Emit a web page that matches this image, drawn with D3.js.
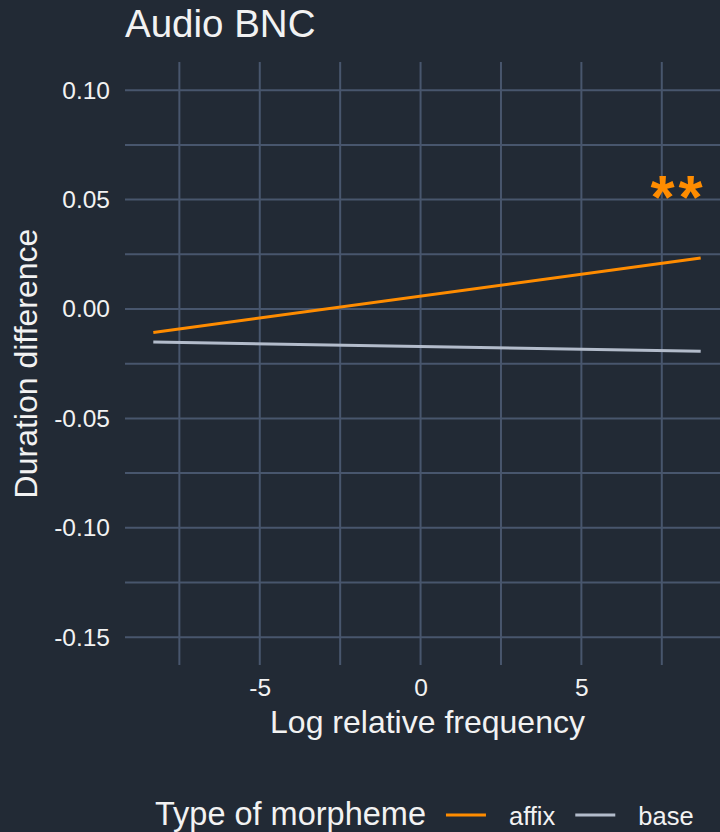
<!DOCTYPE html>
<html>
<head>
<meta charset="utf-8">
<script src="https://cdn.jsdelivr.net/npm/d3@7"></script>
<style>
    html, body { margin: 0; padding: 0; background: #222a35; }
    svg { display: block; font-family: "Liberation Sans", Arial, sans-serif; }
</style>
</head>
<body>
<div id="chart"></div>
<script>
// values
const freq = [-8.31, 8.71];
const affixDiff = [-0.0107, 0.0233];
const baseDiff = [-0.0151, -0.0193];
const seriesNames = ['affix', 'base'];
const xTicks = [-5, 0, 5];
const xMinor = [-7.5, -2.5, 2.5, 7.5];
const yTicks = [-0.15, -0.10, -0.05, 0, 0.05, 0.10];
const yMinor = [-0.125, -0.075, -0.025, 0.025, 0.075];
const stars = {x: 8.71, y: 0.0545, label: '**'};

let svgWidth = 720,
    svgHeight = 832,
    margin = {top: 62, right: 0, bottom: 167, left: 125},
    width = svgWidth - margin.left - margin.right,
    height = svgHeight - margin.top - margin.bottom;

const colors = {affix: '#ff8c00', base: '#b3bccb'};
const gridColor = '#48566d';
const textColor = '#f2f2f2';

let svg = d3.select('#chart')
    .append('svg')
    .attr('width', svgWidth)
    .attr('height', svgHeight);

svg.append('rect').attr('width', svgWidth).attr('height', svgHeight).attr('fill', '#222a35');

let x = d3.scaleLinear().domain([-9.19, 9.31]).range([0, width]),
    y = d3.scaleLinear().domain([-0.1627, 0.1129]).range([height, 0]);

let g = svg.append('g')
    .attr('transform', 'translate(' + margin.left + ',' + margin.top + ')');

// grid
g.selectAll('.hgrid')
    .data(yMinor.concat(yTicks))
    .enter().append('line')
    .attr('x1', 0).attr('x2', width)
    .attr('y1', d => y(d)).attr('y2', d => y(d))
    .attr('stroke', gridColor).attr('stroke-width', 2);

g.selectAll('.vgrid')
    .data(xMinor.concat(xTicks))
    .enter().append('line')
    .attr('y1', 0).attr('y2', height)
    .attr('x1', d => x(d)).attr('x2', d => x(d))
    .attr('stroke', gridColor).attr('stroke-width', 2);

// ggplot prints a plain hyphen, not the unicode minus
const hy = f => d => f(d).replace('\u2212', '-');

// axes (labels only)
let yAxis = g.append('g')
    .call(d3.axisLeft(y).tickValues(yTicks).tickFormat(hy(d3.format('.2f'))).tickSize(0).tickPadding(15));
yAxis.select('.domain').remove();
yAxis.selectAll('text')
    .attr('fill', textColor)
    .style('font-size', '24.5px')
    .style('font-family', '"Liberation Sans", Arial, sans-serif');

let xAxis = g.append('g')
    .attr('transform', `translate(0, ${height})`)
    .call(d3.axisBottom(x).tickValues(xTicks).tickFormat(hy(d3.format('d'))).tickSize(0).tickPadding(14));
xAxis.select('.domain').remove();
xAxis.selectAll('text')
    .attr('fill', textColor)
    .style('font-size', '24.5px')
    .style('font-family', '"Liberation Sans", Arial, sans-serif');

// lines
let series = [
    {name: 'affix', values: freq.map((f, i) => ({x: f, y: affixDiff[i]}))},
    {name: 'base', values: freq.map((f, i) => ({x: f, y: baseDiff[i]}))}
];

let line = d3.line().x(d => x(d.x)).y(d => y(d.y));

g.selectAll('.series')
    .data(series.slice().reverse())
    .enter().append('path')
    .attr('d', d => line(d.values))
    .attr('fill', 'none')
    .attr('stroke', d => colors[d.name])
    .attr('stroke-width', 3);

// significance marker
g.append('text')
    .attr('x', x(stars.x) + 6)
    .attr('y', y(stars.y))
    .attr('dy', '0.46em')
    .attr('text-anchor', 'end')
    .attr('fill', colors.affix)
    .style('font-size', '62px')
    .style('font-weight', 'bold')
    .style('letter-spacing', '4px')
    .text(stars.label);

// titles
svg.append('text')
    .attr('x', 125).attr('y', 37)
    .attr('fill', textColor)
    .style('font-size', '38.5px')
    .text('Audio BNC');

svg.append('text')
    .attr('x', margin.left + width / 2 + 5).attr('y', 733)
    .attr('text-anchor', 'middle')
    .attr('fill', textColor)
    .style('font-size', '32px')
    .text('Log relative frequency');

svg.append('text')
    .attr('transform', `translate(37, ${margin.top + height / 2}) rotate(-90)`)
    .attr('text-anchor', 'middle')
    .attr('fill', textColor)
    .style('font-size', '32px')
    .text('Duration difference');

// legend
let legend = svg.append('g').attr('transform', 'translate(155, 825)');
let lt = legend.append('text')
    .attr('fill', textColor)
    .style('font-size', '32.5px')
    .text('Type of morpheme');
let cx = lt.node().getComputedTextLength() + 20;
seriesNames.forEach(name => {
    legend.append('line')
        .attr('x1', cx).attr('x2', cx + 40)
        .attr('y1', -10).attr('y2', -10)
        .attr('stroke', colors[name]).attr('stroke-width', 3);
    let t = legend.append('text')
        .attr('x', cx + 63)
        .attr('fill', textColor)
        .style('font-size', '25.5px')
        .text(name);
    cx += 63 + t.node().getComputedTextLength() + 20;
});
</script>
</body>
</html>
